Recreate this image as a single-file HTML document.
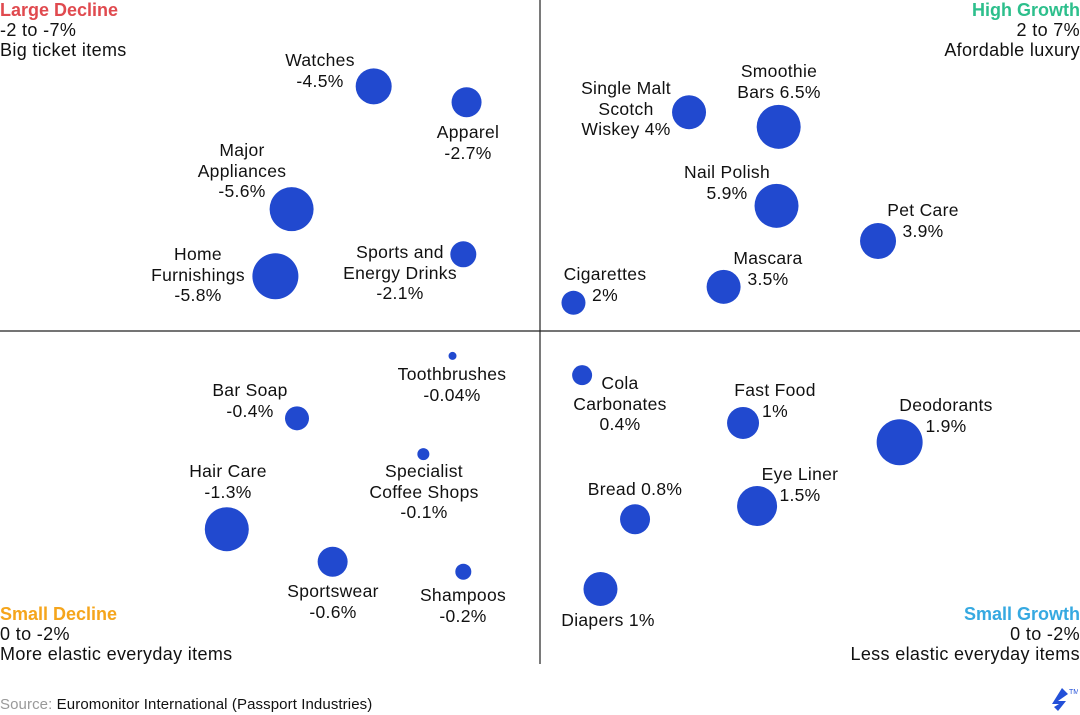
<!DOCTYPE html>
<html><head><meta charset="utf-8"><style>
html,body{margin:0;padding:0;background:#fff;}
#wrap{position:relative;width:1080px;height:715px;overflow:hidden;font-family:"Liberation Sans",sans-serif;color:#111;}
.lbl{position:absolute;transform:translateX(-50%);text-align:center;font-size:17.5px;line-height:20.5px;white-space:nowrap;letter-spacing:0.3px;}
.q{position:absolute;font-size:18px;line-height:20px;white-space:nowrap;letter-spacing:0.35px;}
.q b{font-weight:bold;letter-spacing:0;}
svg{position:absolute;left:0;top:0;}
</style></head><body>
<div id="wrap">
<svg id="chart" width="1080" height="715">
  <line x1="540" y1="0" x2="540" y2="664" stroke="#222" stroke-width="1.2"/>
  <line x1="0" y1="331" x2="1080" y2="331" stroke="#222" stroke-width="1.2"/>
  <g id="bubbles"></g>
</svg>

<div class="q" style="left:0;top:0"><b style="color:#e04a4f">Large Decline</b><br>-2 to -7%<br>Big ticket items</div>
<div class="q" style="right:0;top:0;text-align:right"><b style="color:#2dbf8c">High Growth</b><br>2 to 7%<br>Afordable luxury</div>
<div class="q" style="left:0;top:604px"><b style="color:#f5a51c">Small Decline</b><br>0 to -2%<br>More elastic everyday items</div>
<div class="q" style="right:0;top:604px;text-align:right"><b style="color:#36a9e1">Small Growth</b><br>0 to -2%<br>Less elastic everyday items</div>

<div class="lbl" style="left:320px;top:50px">Watches<br>-4.5%</div>
<div class="lbl" style="left:468px;top:122px">Apparel<br>-2.7%</div>
<div class="lbl" style="left:242px;top:140px">Major<br>Appliances<br>-5.6%</div>
<div class="lbl" style="left:198px;top:244px">Home<br>Furnishings<br>-5.8%</div>
<div class="lbl" style="left:400px;top:242px">Sports and<br>Energy Drinks<br>-2.1%</div>
<div class="lbl" style="left:626px;top:78px">Single Malt<br>Scotch<br>Wiskey 4%</div>
<div class="lbl" style="left:779px;top:61px">Smoothie<br>Bars 6.5%</div>
<div class="lbl" style="left:727px;top:162px">Nail Polish<br>5.9%</div>
<div class="lbl" style="left:923px;top:200px">Pet Care<br>3.9%</div>
<div class="lbl" style="left:768px;top:248px">Mascara<br>3.5%</div>
<div class="lbl" style="left:605px;top:264px">Cigarettes<br>2%</div>
<div class="lbl" style="left:452px;top:364px">Toothbrushes<br>-0.04%</div>
<div class="lbl" style="left:250px;top:380px">Bar Soap<br>-0.4%</div>
<div class="lbl" style="left:228px;top:461px">Hair Care<br>-1.3%</div>
<div class="lbl" style="left:424px;top:461px">Specialist<br>Coffee Shops<br>-0.1%</div>
<div class="lbl" style="left:333px;top:581px">Sportswear<br>-0.6%</div>
<div class="lbl" style="left:463px;top:585px">Shampoos<br>-0.2%</div>
<div class="lbl" style="left:620px;top:373px">Cola<br>Carbonates<br>0.4%</div>
<div class="lbl" style="left:775px;top:380px">Fast Food<br>1%</div>
<div class="lbl" style="left:946px;top:395px">Deodorants<br>1.9%</div>
<div class="lbl" style="left:800px;top:464px">Eye Liner<br>1.5%</div>
<div class="lbl" style="left:635px;top:479px">Bread 0.8%</div>
<div class="lbl" style="left:608px;top:610px">Diapers 1%</div>

<div class="q" style="left:0;top:696px;font-size:15px;line-height:18px;letter-spacing:0.1px"><span style="color:#999">Source:</span> Euromonitor International (Passport Industries)</div>
<svg width="30" height="30" style="left:1048px;top:685px">
  <path d="M14 3 L20 9 L10 16 L18 16 L10 26 L6 22 L11 19 L4 19 Z" fill="#2350d8"/>
  <text x="21" y="9" font-size="7" fill="#2350d8" font-family="Liberation Sans">TM</text>
</svg>
</div>
<script>
const names = ["Watches","Apparel","Major Appliances","Home Furnishings","Sports and Energy Drinks","Single Malt Scotch Wiskey","Smoothie Bars","Nail Polish","Pet Care","Mascara","Cigarettes","Toothbrushes","Bar Soap","Specialist Coffee Shops","Hair Care","Sportswear","Shampoos","Cola Carbonates","Fast Food","Deodorants","Eye Liner","Bread","Diapers"];
const xPos = [34.6,43.2,27.0,25.5,42.9,63.8,72.1,71.9,81.3,67.0,53.1,41.9,27.5,39.2,21.0,30.8,42.9,53.9,68.8,83.3,70.1,58.8,55.6];
const yPos = [13.0,15.4,31.5,41.6,38.3,16.9,19.1,31.0,36.3,43.2,45.6,53.6,63.0,68.4,79.7,84.6,86.1,56.5,63.7,66.6,76.2,78.2,88.7];
const sizes = [18,15,22,23,13,17,22,22,18,17,12,4,12,6,22,15,8,10,16,23,20,15,17];
const xScale = v => v / 100 * 1080;
const yScale = v => v / 100 * 664;
const g = document.getElementById('bubbles');
for (let i = 0; i < names.length; i++) {
  const c = document.createElementNS('http://www.w3.org/2000/svg','circle');
  c.setAttribute('cx', xScale(xPos[i]));
  c.setAttribute('cy', yScale(yPos[i]));
  c.setAttribute('r', sizes[i]);
  c.setAttribute('fill', '#2149cf');
  
  
  g.appendChild(c);
}
</script>
</body></html>
